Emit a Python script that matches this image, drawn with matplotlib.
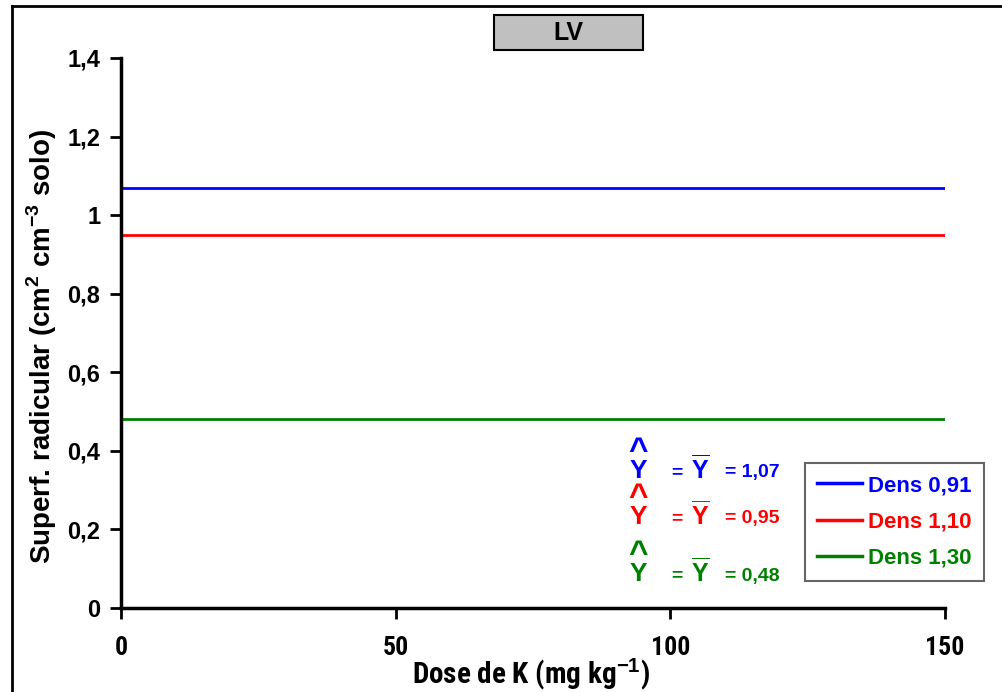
import matplotlib
matplotlib.use("Agg")
import matplotlib.pyplot as plt
from matplotlib.lines import Line2D
from matplotlib.patches import Rectangle
from matplotlib import font_manager
from matplotlib.font_manager import FontProperties

# Data
doses = [0, 150]
series_labels = ["Dens 0,91", "Dens 1,10", "Dens 1,30"]
series_means = [1.07, 0.95, 0.48]
series_colors = ["#0000ff", "#ff0000", "#008000"]
x_ticks = [0, 50, 100, 150]
y_ticks = [0, 0.2, 0.4, 0.6, 0.8, 1.0, 1.2, 1.4]
y_tick_labels = ["0", "0,2", "0,4", "0,6", "0,8", "1", "1,2", "1,4"]
panel_title = "LV"

plt.rcParams["font.family"] = ["Liberation Sans", "DejaVu Sans"]
plt.rcParams["mathtext.fontset"] = "custom"
plt.rcParams["mathtext.rm"] = "Liberation Sans"
plt.rcParams["mathtext.bf"] = "Liberation Sans:bold"

# Look for a condensed bold face for the x axis texts
narrow_file = None
for f in font_manager.fontManager.ttflist:
    low = f.fname.lower()
    if ("narrow" in low or "condensed" in low) and ("bold" in low) and "oblique" not in low and "italic" not in low:
        narrow_file = f.fname
        if "liberation" in low:
            break


def xfont(size):
    if narrow_file:
        return FontProperties(fname=narrow_file, size=size)
    return FontProperties(family="Liberation Sans", weight="bold", size=size * 0.85)


W, H = 1003, 692
fig = plt.figure(figsize=(W / 100, H / 100), dpi=100)
ax = fig.add_axes([121 / W, 1 - 608 / H, 824 / W, 550 / H])

for m, c, lab in zip(series_means, series_colors, series_labels):
    ax.plot(doses, [m, m], color=c, lw=2, label=lab)

ax.set_xlim(0, 150)
ax.set_ylim(0, 1.4)
ax.set_xticks(x_ticks)
ax.set_xticklabels([str(v) for v in x_ticks], fontproperties=xfont(18.5))
ax.set_yticks(y_ticks)
ax.set_yticklabels(y_tick_labels, fontsize=17, fontweight="bold")
ax.tick_params(axis="both", width=2, length=8, direction="out")
ax.tick_params(axis="x", pad=12)
ax.tick_params(axis="y", pad=7)
for s in ["top", "right"]:
    ax.spines[s].set_visible(False)
for s in ["left", "bottom"]:
    ax.spines[s].set_linewidth(2.5)

ax.set_xlabel(r"Dose de K (mg kg$^{\mathbf{-1}}$)", fontproperties=xfont(21))
ax.xaxis.set_label_coords((531 - 121) / 824, (608 - 657) / 550)
ax.set_ylabel(r"Superf. radicular (cm$^{\mathbf{2}}$ cm$^{\mathbf{-3}}$ solo)", fontsize=20,
              fontweight="bold")
ax.yaxis.set_label_coords((42 - 121) / 824, (608 - 346) / 550)
ax.yaxis.label.set_verticalalignment("center")

# Legend
handles = [Line2D([0], [0], color=c, lw=2.5) for c in series_colors]
leg = ax.legend(handles, series_labels, loc="upper left",
                bbox_to_anchor=((805 - 121) / 824, (608 - 463) / 550),
                frameon=True, fancybox=False, edgecolor="#404040",
                prop={"weight": "bold", "size": 16}, handlelength=2.0,
                handletextpad=0.3, borderpad=0.55, labelspacing=0.68, borderaxespad=0)
leg.get_frame().set_linewidth(1.5)
for t, c in zip(leg.get_texts(), series_colors):
    t.set_color(c)


def px2data(px, py):
    return (px - 121) * 150 / 824, (608 - py) * 1.4 / 550


# Equation annotations: Y-hat = Y-bar = mean
ann_rows = [473, 519, 576]
for row, m, c in zip(ann_rows, series_means, series_colors):
    lab = f"{m:.2f}".replace(".", ",")
    x, y = px2data(638, row - 2)
    ax.text(x, y, "Y", color=c, fontsize=19, fontweight="bold", ha="center", va="center")
    x, y = px2data(638, row - 13)
    ax.text(x, y, "^", color=c, fontsize=24, fontweight="bold", ha="center", va="baseline")
    x, y = px2data(677, row)
    ax.text(x, y, "=", color=c, fontsize=14, fontweight="bold", ha="center", va="center")
    x, y = px2data(700, row - 4)
    ax.text(x, y, r"$\overline{\mathbf{Y}}$", color=c, fontsize=18, ha="center", va="center")
    x, y = px2data(725, row)
    ax.text(x, y, "= " + lab, color=c, fontsize=14, fontweight="bold", ha="left", va="center")

# Panel title box
fig.patches.append(Rectangle((494 / W, 1 - 50 / H), 149 / W, 35 / H,
                             transform=fig.transFigure, facecolor="#c0c0c0",
                             edgecolor="black", lw=1.5, zorder=0))
fig.text(568 / W, 1 - 33 / H, panel_title, ha="center", va="center", fontsize=18,
         fontweight="bold")

# Figure frame (top and left edges)
fig.add_artist(Line2D([12 / W, 1], [1 - 6 / H, 1 - 6 / H], color="black", lw=2,
                      transform=fig.transFigure))
fig.add_artist(Line2D([12 / W, 12 / W], [0, 1 - 6 / H], color="black", lw=2,
                      transform=fig.transFigure))

fig.savefig("out.png", dpi=100)
